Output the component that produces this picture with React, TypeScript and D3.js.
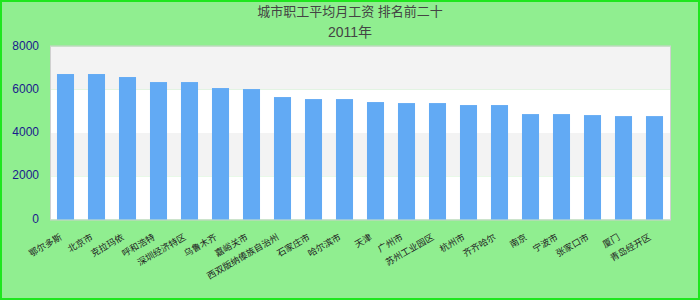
import React from "react";
import * as d3 from "d3";

const titleText = "城市职工平均月工资 排名前二十";
const subtitleText = "2011年";
const categories = [
  "鄂尔多斯", "北京市", "克拉玛依", "呼和浩特", "深圳经济特区",
  "乌鲁木齐", "嘉峪关市", "西双版纳傣族自治州", "石家庄市", "哈尔滨市",
  "天津", "广州市", "苏州工业园区", "杭州市", "齐齐哈尔",
  "南京", "宁波市", "张家口市", "厦门", "青岛经开区",
];
const values = [
  6727, 6727, 6588, 6356, 6356, 6079, 6032, 5662, 5569, 5569,
  5431, 5384, 5384, 5292, 5292, 4875, 4875, 4829, 4782, 4782,
];
const yTicks = [0, 2000, 4000, 6000, 8000];

const W = 700;
const H = 300;
const plot = { left: 50, right: 670, top: 46.5, bottom: 219.5 };

export default function App() {
  const x = d3
    .scaleBand<string>()
    .domain(categories)
    .range([plot.left, plot.right])
    .paddingInner(0.45)
    .paddingOuter(0.225);
  const y = d3.scaleLinear().domain([0, 8000]).range([plot.bottom, plot.top]);

  const bands = yTicks.slice(0, -1).map((t, i) => ({ t0: t, t1: yTicks[i + 1], i }));

  return (
    <svg
      width={W}
      height={H}
      style={{ position: "absolute", left: 0, top: 0 }}
      fontFamily="'Liberation Sans', Arial, 'Noto Sans CJK SC', sans-serif"
    >
      <rect x={1} y={1} width={W - 2} height={H - 2} fill="#90ee90" stroke="#1ee61e" strokeWidth={2} />
      {bands.map((b) => (
        <rect
          key={b.i}
          x={plot.left}
          y={y(b.t1)}
          width={plot.right - plot.left}
          height={y(b.t0) - y(b.t1)}
          fill={b.i % 2 === 1 ? "#f3f3f3" : "#ffffff"}
        />
      ))}
      <rect
        x={plot.left + 0.5}
        y={plot.top - 0.5}
        width={plot.right - plot.left}
        height={plot.bottom - plot.top + 1}
        fill="none"
        stroke="#d0d0d0"
        strokeWidth={1}
      />
      {categories.map((c, i) => (
        <rect
          key={c + i}
          x={x(c)}
          y={y(values[i])}
          width={x.bandwidth()}
          height={y(0) - y(values[i])}
          fill="#62aaf4"
        />
      ))}
      {yTicks.map((t) => (
        <text
          key={t}
          x={39}
          y={y(t)}
          textAnchor="end"
          dominantBaseline="middle"
          fontSize={12}
          fill="#1a1a8c"
        >
          {t}
        </text>
      ))}
      {categories.map((c, i) => {
        const cx = (x(c) as number) + x.bandwidth() / 2 - 3;
        const cy = 239;
        return (
          <text
            key={"l" + i}
            x={cx}
            y={cy}
            textAnchor="end"
            fontSize={9}
            fill="#222"
            transform={`rotate(-30, ${cx}, ${cy})`}
          >
            {c}
          </text>
        );
      })}
      <text x={350} y={16} textAnchor="middle" fontSize={13} fill="#444">
        {titleText}
      </text>
      <text x={350} y={37} textAnchor="middle" fontSize={14} fill="#444">
        {subtitleText}
      </text>
    </svg>
  );
}
